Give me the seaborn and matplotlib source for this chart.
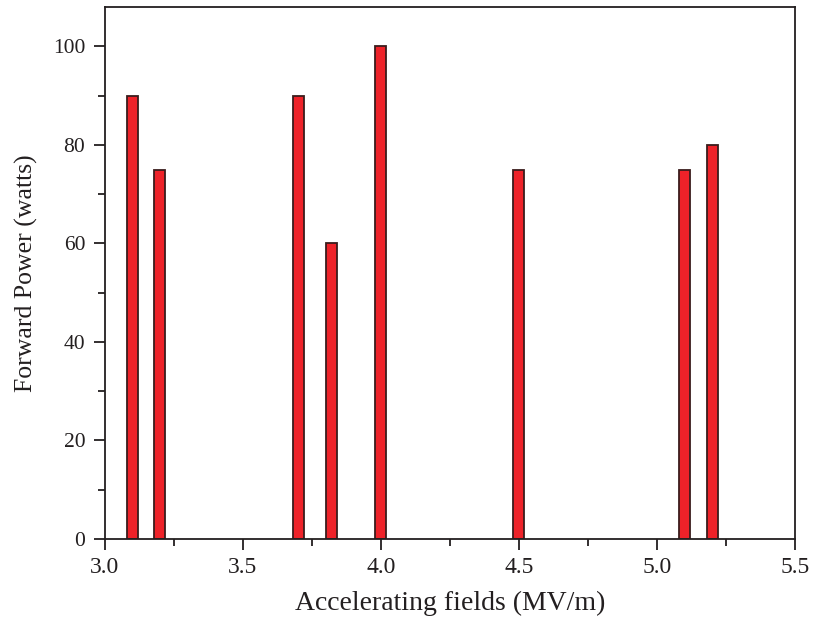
import matplotlib
matplotlib.use("Agg")
import matplotlib.pyplot as plt
from matplotlib.ticker import MultipleLocator, FormatStrFormatter
import seaborn as sns
import pandas as pd

# Accelerating field (MV/m) and the forward power needed at each point
fields = [3.1, 3.2, 3.7, 3.82, 4.0, 4.5, 5.1, 5.2]
power = [90, 75, 90, 60, 100, 75, 75, 80]

df = pd.DataFrame({"field": fields, "power": power})

sns.set_theme(style="ticks")
plt.rcParams["font.family"] = ["Liberation Serif", "DejaVu Serif"]

fig = plt.figure(figsize=(8.13, 6.23), dpi=100)
ax = fig.add_axes([0.1288, 0.1348, 0.978 - 0.1288, 0.9888 - 0.1348])

sns.barplot(data=df, x="field", y="power", native_scale=True, width=0.4,
            color="#ee2229", saturation=1, edgecolor="#3a1c1c", linewidth=1.3,
            errorbar=None, ax=ax)

ax.set_xlim(3.0, 5.5)
ax.set_ylim(0, 108)
ax.xaxis.set_major_locator(MultipleLocator(0.5))
ax.xaxis.set_minor_locator(MultipleLocator(0.25))
ax.yaxis.set_major_locator(MultipleLocator(20))
ax.yaxis.set_minor_locator(MultipleLocator(10))
ax.xaxis.set_major_formatter(FormatStrFormatter("%.1f"))

for s in ax.spines.values():
    s.set_linewidth(1.3)
    s.set_color("#231f20")
ax.tick_params(which="major", direction="out", length=8, width=1.3,
               color="#231f20", labelcolor="#231f20", pad=6,
               top=False, right=False)
ax.tick_params(which="minor", direction="out", length=5, width=1.3,
               color="#231f20", top=False, right=False)
ax.tick_params(axis="x", which="major", labelsize=17, pad=5)
ax.tick_params(axis="y", which="major", labelsize=15.5)

ax.set_xlabel("Accelerating fields (MV/m)", fontsize=20, color="#231f20", labelpad=9)
ax.set_ylabel("Forward Power (watts)", fontsize=18.5, color="#231f20", labelpad=11)

fig.savefig("out.png", dpi=100)
